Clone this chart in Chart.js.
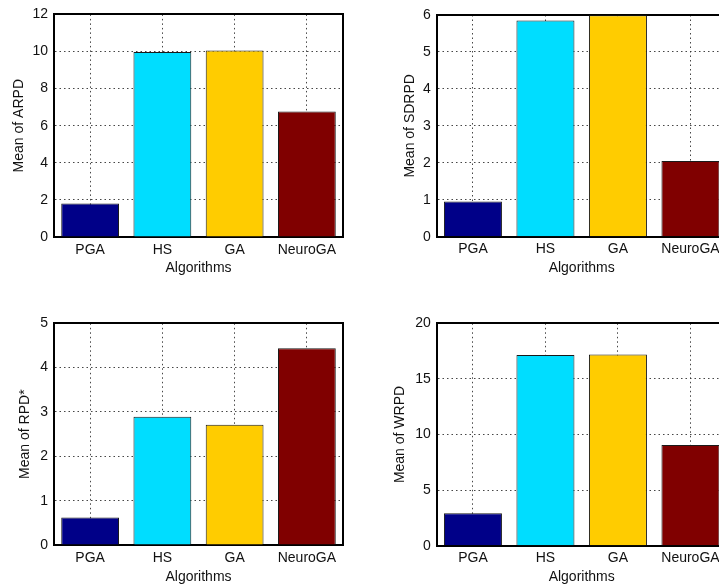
<!DOCTYPE html>
<html>
<head>
<meta charset="utf-8">
<script src="https://cdn.jsdelivr.net/npm/chart.js@4/dist/chart.umd.min.js"></script>
<style>
  html, body { margin:0; padding:0; width:719px; height:585px; overflow:hidden; background:#fff; }
  .box { position:absolute; }
  canvas { display:block; }
</style>
</head>
<body>
<div class="box" id="b1" style="left:0px;top:0px;"><canvas id="c1" width="360" height="290" style="width:360px;height:290px"></canvas></div>
<div class="box" id="b2" style="left:380px;top:0px;"><canvas id="c2" width="360" height="290" style="width:360px;height:290px"></canvas></div>
<div class="box" id="b3" style="left:0px;top:290px;"><canvas id="c3" width="360" height="300" style="width:360px;height:300px"></canvas></div>
<div class="box" id="b4" style="left:380px;top:290px;"><canvas id="c4" width="360" height="300" style="width:360px;height:300px"></canvas></div>
<script>
// ---- data ----
const algorithms = ['PGA', 'HS', 'GA', 'NeuroGA'];
const arpd  = [1.80, 9.97, 10.06, 6.76];
const sdrpd = [0.95, 5.85, 5.99, 2.05];
const rpdStar = [0.62, 2.89, 2.71, 4.44];
const wrpd  = [2.91, 17.15, 17.2, 9.06];
const xTitle = 'Algorithms';
const yTitles = ['Mean of ARPD', 'Mean of SDRPD', 'Mean of RPD*', 'Mean of WRPD'];
const yMaxes = [12, 6, 5, 20];
const ySteps = [2, 1, 1, 5];

// ---- styles ----
const barColors = ['#000088', '#00DDFF', '#FFCC00', '#800000'];
const fontFamily = '"Liberation Sans", Arial, Helvetica, sans-serif';
const fontSize = 14;
const gridStyle = { color: 'rgba(50,50,50,0.9)', lineWidth: 1, drawTicks: false };
const borderStyle = { display: true, color: '#000', width: 2, dash: [1.5, 3] };

function makeChart(id, values, yTitle, yMax, yStep, lay) {
  new Chart(document.getElementById(id), {
    type: 'bar',
    data: {
      labels: algorithms,
      datasets: [{
        data: values,
        backgroundColor: barColors,
        borderColor: '#1a1a1a',
        borderWidth: 1,
        categoryPercentage: 1.0,
        barPercentage: 0.8
      }]
    },
    options: {
      responsive: false,
      animation: false,
      devicePixelRatio: 1,
      layout: { padding: lay.padding },
      plugins: { legend: { display: false }, tooltip: { enabled: false } },
      scales: {
        x: {
          type: 'category',
          position: 'bottom',
          grid: Object.assign({ offset: false }, gridStyle),
          border: borderStyle,
          ticks: { color: '#111', padding: 4.4, font: { family: fontFamily, size: fontSize } },
          title: { display: true, text: xTitle, color: '#111', padding: { top: 4, bottom: 4 }, font: { family: fontFamily, size: fontSize } },
          afterFit: s => { s.height = lay.xH; }
        },
        x2: {
          type: 'category',
          position: 'top',
          labels: algorithms,
          grid: { display: false, drawTicks: false },
          ticks: { display: false },
          border: { display: true, color: '#000', width: 2 },
          afterFit: s => { s.height = 0; }
        },
        y: {
          type: 'linear',
          position: 'left',
          min: 0, max: yMax,
          grid: gridStyle,
          border: borderStyle,
          ticks: { stepSize: yStep, color: '#111', padding: 6, font: { family: fontFamily, size: fontSize } },
          title: { display: true, text: yTitle, color: '#111', padding: { top: 4, bottom: 4 }, font: { family: fontFamily, size: fontSize } },
          afterFit: s => { s.width = lay.yW; }
        },
        y2: {
          type: 'linear',
          position: 'right',
          grid: { display: false, drawTicks: false },
          ticks: { display: false },
          border: { display: true, color: '#000', width: 2 },
          afterFit: s => { s.width = 0; }
        }
      }
    }
  });
}

makeChart('c1', arpd, yTitles[0], yMaxes[0], ySteps[0],
  { padding: { left: 6.4, top: 14, right: 17, bottom: 9.4 }, yW: 47.6, xH: 43.6 });
makeChart('c2', sdrpd, yTitles[1], yMaxes[1], ySteps[1],
  { padding: { left: 17.4, top: 15, right: 13.3, bottom: 9.4 }, yW: 39.3, xH: 43.9 });
makeChart('c3', rpdStar, yTitles[2], yMaxes[2], ySteps[2],
  { padding: { left: 12.6, top: 33.3, right: 17, bottom: 0.9 }, yW: 41.4, xH: 44.1 });
makeChart('c4', wrpd, yTitles[3], yMaxes[3], ySteps[3],
  { padding: { left: 7.6, top: 33.3, right: 13.3, bottom: 0.9 }, yW: 49.1, xH: 43.4 });
</script>
</body>
</html>
